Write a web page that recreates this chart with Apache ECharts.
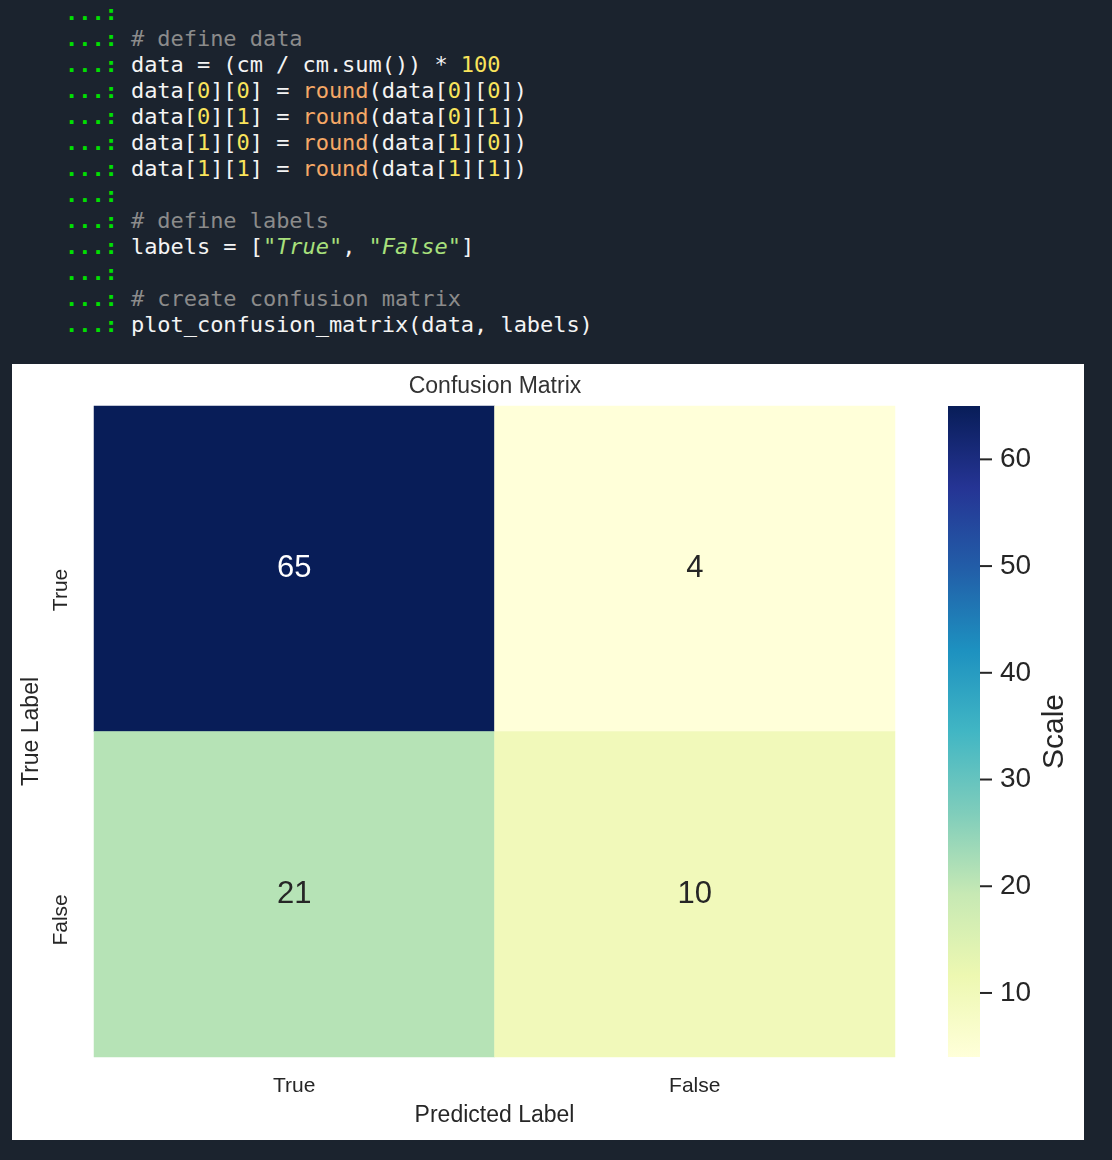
<!DOCTYPE html>
<html>
<head>
<meta charset="utf-8">
<script src="https://cdn.jsdelivr.net/npm/echarts@6/dist/echarts.min.js"></script>
<style>
  html, body { margin: 0; padding: 0; background: #1b232e; }
  #page { position: relative; width: 1112px; height: 1160px; background: #1b232e; overflow: hidden; }
  #code { position: absolute; left: 65px; top: 0px; margin: 0; font-family: "DejaVu Sans Mono", monospace;
          font-size: 22px; line-height: 26px; color: #f4f4f4; white-space: pre; letter-spacing: -0.05px; }
  .p { color: #00e000; font-weight: bold; }
  .c { color: #8b8b8b; }
  .n { color: #f9e45b; }
  .f { color: #f6a866; }
  .s { color: #a8e07c; font-style: italic; }
  #chart { position: absolute; left: 12px; top: 364px; width: 1072px; height: 776px; background: #ffffff; }
</style>
</head>
<body>
<div id="page">
<pre id="code"><span class="p">...:</span>
<span class="p">...:</span> <span class="c"># define data</span>
<span class="p">...:</span> data = (cm / cm.sum()) * <span class="n">100</span>
<span class="p">...:</span> data[<span class="n">0</span>][<span class="n">0</span>] = <span class="f">round</span>(data[<span class="n">0</span>][<span class="n">0</span>])
<span class="p">...:</span> data[<span class="n">0</span>][<span class="n">1</span>] = <span class="f">round</span>(data[<span class="n">0</span>][<span class="n">1</span>])
<span class="p">...:</span> data[<span class="n">1</span>][<span class="n">0</span>] = <span class="f">round</span>(data[<span class="n">1</span>][<span class="n">0</span>])
<span class="p">...:</span> data[<span class="n">1</span>][<span class="n">1</span>] = <span class="f">round</span>(data[<span class="n">1</span>][<span class="n">1</span>])
<span class="p">...:</span>
<span class="p">...:</span> <span class="c"># define labels</span>
<span class="p">...:</span> labels = [<span class="s">"</span><span class="s">True</span><span class="s" style="font-style:normal">"</span>, <span class="s" style="font-style:normal">"</span><span class="s">False</span><span class="s" style="font-style:normal">"</span>]
<span class="p">...:</span>
<span class="p">...:</span> <span class="c"># create confusion matrix</span>
<span class="p">...:</span> plot_confusion_matrix(data, labels)</pre>
<div id="chart"></div>
</div>
<script>
// ---- data ----
const labels = ['True', 'False'];          // category labels (rows: true label, cols: predicted)
const values = [[65, 4], [21, 10]];        // values[trueIdx][predIdx]
const scaleMin = 4;
const scaleMax = 65;
const scaleTicks = [10, 20, 30, 40, 50, 60];
const ylgnbu = ['#ffffd9', '#edf8b1', '#c7e9b4', '#7fcdbb', '#41b6c4', '#1d91c0', '#225ea8', '#253494', '#081d58'];

const FONT = '"Liberation Sans", Arial, sans-serif';
const TXT = '#262626';

const heatData = [];
values.forEach((row, yi) => {
  row.forEach((v, xi) => {
    heatData.push({
      value: [xi, yi, v],
      label: { color: v > 40 ? '#ffffff' : TXT }
    });
  });
});

const chart = echarts.init(document.getElementById('chart'), null, { renderer: 'canvas' });
chart.setOption({
  backgroundColor: '#ffffff',
  animation: false,
  graphic: [{
    type: 'text', x: 483, y: 23, silent: true,
    style: {
      text: 'Confusion Matrix', fontFamily: FONT, fontSize: 23, fill: '#333333',
      align: 'center', verticalAlign: 'middle'
    }
  }],
  grid: [
    { left: 82, top: 42, width: 801, height: 651, outerBoundsMode: 'none', containLabel: false },
    { left: 936, top: 42, width: 32, height: 651, outerBoundsMode: 'none', containLabel: false }
  ],
  xAxis: [
    {
      type: 'category', gridIndex: 0, data: labels,
      name: 'Predicted Label', nameLocation: 'middle', nameGap: 47,
      nameTextStyle: { fontFamily: FONT, fontSize: 23, color: TXT },
      axisLine: { show: false }, axisTick: { show: false }, splitLine: { show: false },
      axisLabel: { fontFamily: FONT, fontSize: 21, color: TXT, margin: 19 }
    },
    { type: 'value', gridIndex: 1, min: 0, max: 1, show: false }
  ],
  yAxis: [
    {
      type: 'category', gridIndex: 0, data: labels, inverse: true,
      name: 'True Label', nameLocation: 'middle', nameGap: 48, nameRotate: 90,
      nameTextStyle: { fontFamily: FONT, fontSize: 23, color: TXT },
      axisLine: { show: false }, axisTick: { show: false }, splitLine: { show: false },
      axisLabel: { fontFamily: FONT, fontSize: 21, color: TXT, rotate: 90, margin: 22, align: 'right' }
    },
    {
      type: 'value', gridIndex: 1, min: scaleMin, max: scaleMax, position: 'right',
      name: 'Scale', nameLocation: 'middle', nameGap: 60, nameRotate: 90,
      nameTextStyle: { fontFamily: FONT, fontSize: 30, color: TXT },
      axisLine: { show: false },
      splitLine: { show: false },
      axisTick: { show: false },
      axisLabel: { fontFamily: FONT, fontSize: 28, color: TXT, margin: 20, customValues: scaleTicks }
    }
  ],
  visualMap: {
    show: false, type: 'continuous', min: scaleMin, max: scaleMax,
    seriesIndex: 0, dimension: 2,
    inRange: { color: ylgnbu }
  },
  series: [
    {
      type: 'heatmap', xAxisIndex: 0, yAxisIndex: 0, data: heatData,
      silent: true,
      label: { show: true, fontFamily: FONT, fontSize: 31, formatter: p => String(p.value[2]) },
      itemStyle: { borderWidth: 0 },
      emphasis: { disabled: true }
    },
    {
      type: 'custom', xAxisIndex: 1, yAxisIndex: 1, silent: true,
      data: [[0, scaleMin, scaleMax]],
      renderItem: function (params, api) {
        const p0 = api.coord([0, api.value(2)]);
        const p1 = api.coord([1, api.value(1)]);
        return {
          type: 'rect',
          shape: { x: p0[0], y: p0[1], width: p1[0] - p0[0], height: p1[1] - p0[1] },
          style: {
            fill: new echarts.graphic.LinearGradient(0, 1, 0, 0,
              ylgnbu.map((c, i) => ({ offset: i / (ylgnbu.length - 1), color: c })))
          }
        };
      }
    },
    {
      // colorbar tick marks
      type: 'custom', xAxisIndex: 1, yAxisIndex: 1, silent: true, clip: false,
      data: scaleTicks.map(v => [1, v]),
      renderItem: function (params, api) {
        const p = api.coord([api.value(0), api.value(1)]);
        return {
          type: 'line',
          shape: { x1: p[0], y1: p[1], x2: p[0] + 12, y2: p[1] },
          style: { stroke: TXT, lineWidth: 2 }
        };
      }
    }
  ]
});
</script>
</body>
</html>
